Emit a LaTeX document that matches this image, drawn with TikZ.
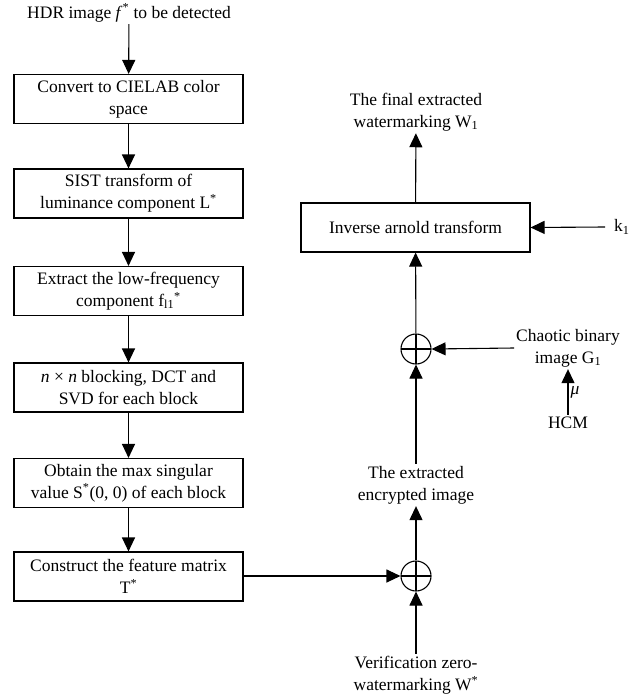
\documentclass[tikz,border=0pt]{standalone}
\usepackage{fontspec}
\setmainfont{Liberation Serif}
\usetikzlibrary{arrows.meta}
\begin{document}
\begin{tikzpicture}[x=1pt,y=1pt,
  every node/.style={font=\fontsize{17.5}{22}\selectfont, align=center},
  stepbox/.style={draw, line width=1.1pt, minimum width=229pt, minimum height=49pt, inner sep=2pt},
  lbl/.style={inner sep=2pt},
  xorc/.style={draw, circle, line width=1.1pt, minimum size=30pt, inner sep=0pt,
     path picture={\draw[line width=1.1pt] (path picture bounding box.north) -- (path picture bounding box.south)
       (path picture bounding box.west) -- (path picture bounding box.east);}},
  arr/.style={line width=1.1pt, -{Triangle[length=14pt,width=13pt]}}]
\useasboundingbox (0,0) rectangle (644,-696);
\node[lbl] (title) at (129,-13) {HDR image \textit{f}\textsuperscript{*} to be detected};
\node[stepbox] (b1) at (128.5,-99) {Convert to CIELAB color\\space};
\node[stepbox] (b2) at (128.5,-193.5) {SIST transform of\\luminance component L\textsuperscript{*}};
\node[stepbox] (b3) at (128.5,-291) {Extract the low-frequency\\component f\textsubscript{l1}\textsuperscript{*}};
\node[stepbox] (b4) at (128.5,-387.5) {\textit{n} × \textit{n} blocking, DCT and\\SVD for each block};
\node[stepbox] (b5) at (128.5,-483) {Obtain the max singular\\value S\textsuperscript{*}(0, 0) of each block};
\node[stepbox] (b6) at (128.5,-576.5) {Construct the feature matrix\\T\textsuperscript{*}};
\draw[arr] (title) -- (b1);
\draw[arr] (b1) -- (b2);
\draw[arr] (b2) -- (b3);
\draw[arr] (b3) -- (b4);
\draw[arr] (b4) -- (b5);
\draw[arr] (b5) -- (b6);

\node[stepbox] (inv) at (415.5,-227.5) {Inverse arnold transform};
\node[lbl] (final) at (416,-112) {The final extracted\\watermarking W\textsubscript{1}};
\node[lbl,anchor=west] (k1) at (612,-227) {k\textsubscript{1}};
\coordinate (k1s) at (605,-227);
\node[xorc] (x1) at (416,-349) {};
\node[lbl] (chaos) at (568,-348) {Chaotic binary\\image G\textsubscript{1}};
\node[lbl] (hcm) at (568,-423) {HCM};
\node[lbl] (enc) at (416,-485) {The extracted\\encrypted image};
\node[xorc] (x2) at (416,-576) {};
\node[lbl] (ver) at (416,-675) {Verification zero-\\watermarking W\textsuperscript{*}};

\draw[arr] (inv) -- (final);
\draw[arr] (k1s) -- (inv.east);
\draw[arr] (x1) -- (inv);
\draw[arr] (chaos.west) -- (x1.east);
\draw[arr] (hcm) -- node[right,lbl]{\textit{μ}} (chaos.south -| hcm);
\draw[arr] (enc) -- (x1);
\draw[arr] (x2) -- (enc);
\draw[arr] (ver) -- (x2);
\draw[arr] (b6.east |- x2) -- (x2.west);
\end{tikzpicture}
\end{document}
